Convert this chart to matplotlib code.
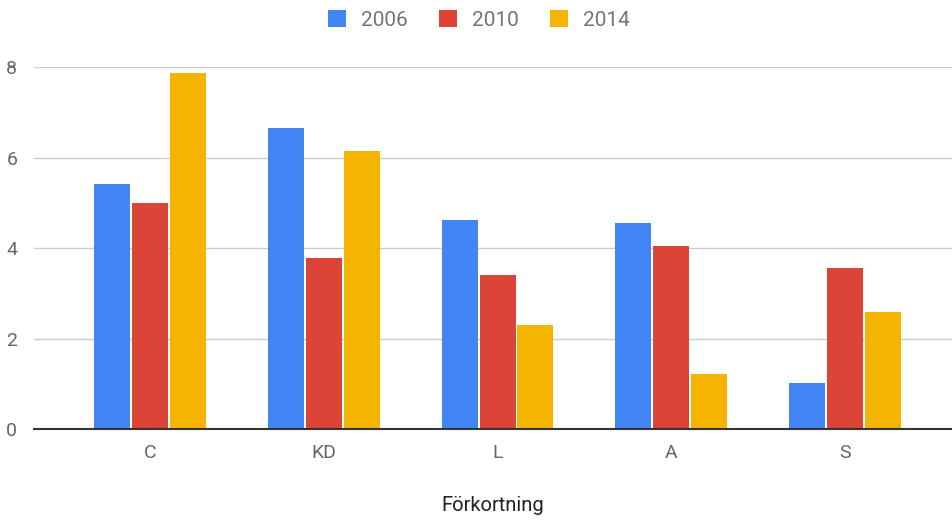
import numpy as np
import matplotlib
matplotlib.use('Agg')
import matplotlib.pyplot as plt
from matplotlib.patches import Patch

plt.rcParams['font.family'] = ['Roboto', 'DejaVu Sans']

categories = ['C', 'KD', 'L', 'A', 'S']
years = ['2006', '2010', '2014']
v2006 = [5.41, 6.65, 4.62, 4.55, 1.02]
v2010 = [4.99, 3.78, 3.40, 4.04, 3.56]
v2014 = [7.87, 6.14, 2.30, 1.22, 2.59]
colors = ['#4285f4', '#db4437', '#f4b400']

fig = plt.figure(figsize=(9.52, 5.23), dpi=100)
ax = fig.add_axes([0.0357, 0.1797, 0.9643, 0.6922])

x = np.arange(len(categories))
step = 0.218
for i, (vals, c) in enumerate(zip([v2006, v2010, v2014], colors)):
    ax.bar(x + (i - 1) * step, vals, width=0.207, color=c, zorder=3)

ax.set_xlim(-0.667, 4.615)
ax.set_ylim(0, 8)
ax.set_yticks([0, 2, 4, 6, 8])
ax.set_xticks(x)
ax.set_xticklabels(categories)
ax.grid(axis='y', color='#cccccc', linewidth=1, zorder=0)
for s in ['top', 'right', 'left']:
    ax.spines[s].set_visible(False)
ax.spines['bottom'].set_color('#333333')
ax.spines['bottom'].set_linewidth(1.5)
ax.spines['bottom'].set_zorder(4)
ax.tick_params(axis='both', length=0, colors='#666666', labelsize=14)
ax.tick_params(axis='x', pad=11)
ax.tick_params(axis='y', pad=12)

ax.set_xlabel('Förkortning', fontsize=14.5, color='#222222', labelpad=24)

handles = [Patch(facecolor=c, edgecolor='none') for c in colors]
fig.legend(handles, years, loc='center', bbox_to_anchor=(0.503, 0.962), ncol=3,
           frameon=False, fontsize=15, labelcolor='#757575', handlelength=0.87,
           handleheight=0.87, handletextpad=0.72, columnspacing=1.5)

fig.savefig('out.png', dpi=100)
